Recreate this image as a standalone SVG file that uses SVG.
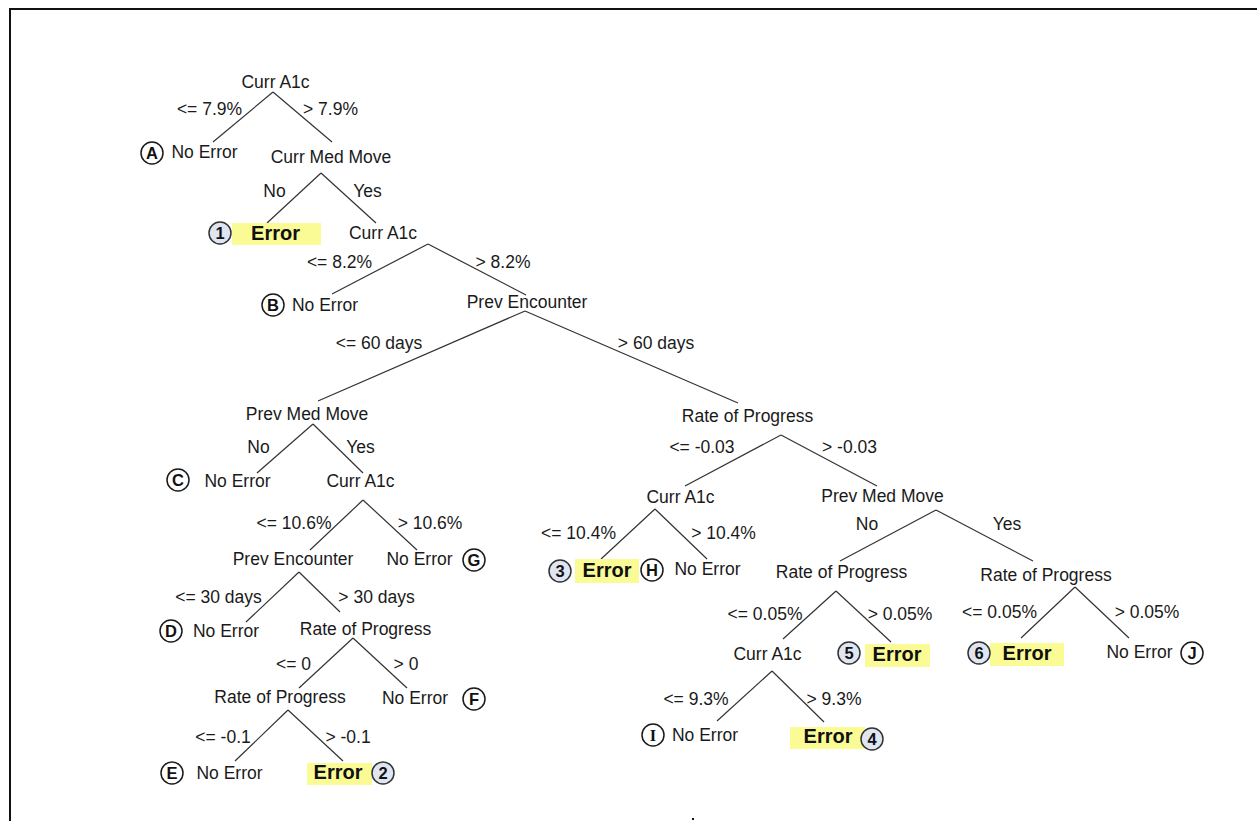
<svg xmlns="http://www.w3.org/2000/svg" width="1257" height="821" viewBox="0 0 1257 821">
<style>
.t{font-family:"Liberation Sans",Arial,sans-serif;font-size:17.5px;fill:#1a1a1a;text-anchor:middle}
.e{font-family:"Liberation Sans",Arial,sans-serif;font-size:20px;font-weight:bold;fill:#111;text-anchor:middle}
.hl{fill:#fbfb96}
.lc{fill:#fff;stroke:#1a1a1a;stroke-width:1.5}
.nc{fill:#dfe6f2;stroke:#333;stroke-width:1.5}
.ct{font-family:"Liberation Sans",Arial,sans-serif;font-size:16.5px;font-weight:bold;fill:#111;text-anchor:middle}
#connectors line{stroke:#333;stroke-width:1.2}
</style>
<rect width="1257" height="821" fill="#fff"/>
<path d="M1257 9H10V821" fill="none" stroke="#111" stroke-width="2"/>
<rect x="692" y="818" width="2" height="2" fill="#111"/>
<g id="connectors">
<line x1="273" y1="92" x2="213" y2="142"/>
<line x1="273" y1="92" x2="332" y2="142"/>
<line x1="321" y1="173" x2="267" y2="223"/>
<line x1="321" y1="173" x2="376" y2="223"/>
<line x1="428" y1="244" x2="332" y2="294"/>
<line x1="428" y1="244" x2="526" y2="295"/>
<line x1="525" y1="311" x2="318" y2="401"/>
<line x1="525" y1="311" x2="738" y2="403"/>
<line x1="313" y1="424" x2="257" y2="473"/>
<line x1="313" y1="424" x2="363" y2="473"/>
<line x1="363" y1="500" x2="310" y2="550"/>
<line x1="363" y1="500" x2="417" y2="550"/>
<line x1="299" y1="572" x2="246" y2="622"/>
<line x1="299" y1="572" x2="340" y2="612"/>
<line x1="353" y1="638" x2="299" y2="688"/>
<line x1="353" y1="638" x2="407" y2="688"/>
<line x1="288" y1="710" x2="235" y2="761"/>
<line x1="288" y1="710" x2="343" y2="761"/>
<line x1="781" y1="435" x2="685" y2="486"/>
<line x1="781" y1="435" x2="877" y2="486"/>
<line x1="655" y1="509" x2="601" y2="559"/>
<line x1="655" y1="509" x2="707" y2="559"/>
<line x1="936" y1="510" x2="840" y2="561"/>
<line x1="936" y1="510" x2="1033" y2="561"/>
<line x1="836" y1="591" x2="783" y2="639"/>
<line x1="836" y1="591" x2="891" y2="642"/>
<line x1="1075" y1="587" x2="1021" y2="638"/>
<line x1="1075" y1="587" x2="1129" y2="638"/>
<line x1="772" y1="671" x2="717" y2="721"/>
<line x1="772" y1="671" x2="824" y2="722"/>
</g>
<g id="edge-labels">
<text class="t" x="209.5" y="115">&lt;= 7.9%</text>
<text class="t" x="330.5" y="115">&gt; 7.9%</text>
<text class="t" x="274.5" y="197">No</text>
<text class="t" x="367.5" y="197">Yes</text>
<text class="t" x="339.5" y="268">&lt;= 8.2%</text>
<text class="t" x="503" y="268">&gt; 8.2%</text>
<text class="t" x="379" y="349">&lt;= 60 days</text>
<text class="t" x="656" y="349">&gt; 60 days</text>
<text class="t" x="258.5" y="453">No</text>
<text class="t" x="360.5" y="453">Yes</text>
<text class="t" x="294" y="529">&lt;= 10.6%</text>
<text class="t" x="430" y="529">&gt; 10.6%</text>
<text class="t" x="218.5" y="603">&lt;= 30 days</text>
<text class="t" x="376.5" y="603">&gt; 30 days</text>
<text class="t" x="293.5" y="670">&lt;= 0</text>
<text class="t" x="406" y="670">&gt; 0</text>
<text class="t" x="223" y="743">&lt;= -0.1</text>
<text class="t" x="348" y="743">&gt; -0.1</text>
<text class="t" x="702" y="453">&lt;= -0.03</text>
<text class="t" x="849.5" y="453">&gt; -0.03</text>
<text class="t" x="578.5" y="539">&lt;= 10.4%</text>
<text class="t" x="723.5" y="539">&gt; 10.4%</text>
<text class="t" x="867" y="530">No</text>
<text class="t" x="1007" y="530">Yes</text>
<text class="t" x="765" y="620">&lt;= 0.05%</text>
<text class="t" x="900" y="620">&gt; 0.05%</text>
<text class="t" x="696" y="705">&lt;= 9.3%</text>
<text class="t" x="834" y="705">&gt; 9.3%</text>
<text class="t" x="999.5" y="618">&lt;= 0.05%</text>
<text class="t" x="1147" y="618">&gt; 0.05%</text>
</g>
<g id="n-root"><text class="t" x="275.5" y="88">Curr A1c</text></g>
<g id="n-A"><circle class="lc" cx="152" cy="153" r="11"/><text class="ct" x="152" y="159">A</text><text class="t" x="204.5" y="158">No Error</text></g>
<g id="n-currmed"><text class="t" x="331" y="163">Curr Med Move</text></g>
<g id="n-1"><rect class="hl" x="232" y="223" width="89" height="22"/><circle class="nc" cx="220" cy="233" r="11"/><text class="ct" x="220" y="239">1</text><text class="e" x="275.5" y="240">Error</text></g>
<g id="n-curra1c2"><text class="t" x="383" y="239">Curr A1c</text></g>
<g id="n-B"><circle class="lc" cx="273" cy="305" r="11"/><text class="ct" x="273" y="311">B</text><text class="t" x="325" y="311">No Error</text></g>
<g id="n-prevenc"><text class="t" x="527" y="308">Prev Encounter</text></g>
<g id="n-prevmed"><text class="t" x="307" y="420">Prev Med Move</text></g>
<g id="n-C"><circle class="lc" cx="178" cy="480" r="11"/><text class="ct" x="178" y="486">C</text><text class="t" x="237.5" y="487">No Error</text></g>
<g id="n-curra1c3"><text class="t" x="360.5" y="487">Curr A1c</text></g>
<g id="n-prevenc2"><text class="t" x="293" y="565">Prev Encounter</text></g>
<g id="n-G"><text class="t" x="419.5" y="565">No Error</text><circle class="lc" cx="474" cy="560" r="11"/><text class="ct" x="474" y="566">G</text></g>
<g id="n-D"><circle class="lc" cx="171" cy="631" r="11"/><text class="ct" x="171" y="637">D</text><text class="t" x="226" y="637">No Error</text></g>
<g id="n-rop1"><text class="t" x="365.5" y="635">Rate of Progress</text></g>
<g id="n-rop2"><text class="t" x="280" y="703">Rate of Progress</text></g>
<g id="n-F"><text class="t" x="415" y="704">No Error</text><circle class="lc" cx="474" cy="699" r="11"/><text class="ct" x="474" y="705">F</text></g>
<g id="n-E"><circle class="lc" cx="172" cy="773" r="11"/><text class="ct" x="172" y="779">E</text><text class="t" x="229.5" y="779">No Error</text></g>
<g id="n-2"><rect class="hl" x="307" y="763" width="65" height="22"/><text class="e" x="338" y="779">Error</text><circle class="nc" cx="383" cy="773" r="11"/><text class="ct" x="383" y="779">2</text></g>
<g id="n-rop3"><text class="t" x="747.5" y="422">Rate of Progress</text></g>
<g id="n-curra1c4"><text class="t" x="680.5" y="503">Curr A1c</text></g>
<g id="n-prevmed2"><text class="t" x="882.5" y="502">Prev Med Move</text></g>
<g id="n-3"><rect class="hl" x="575" y="559" width="64" height="24"/><circle class="nc" cx="560" cy="571" r="11"/><text class="ct" x="560" y="577">3</text><text class="e" x="607" y="577">Error</text></g>
<g id="n-H"><circle class="lc" cx="652" cy="570" r="11"/><text class="ct" x="652" y="576">H</text><text class="t" x="707.5" y="575">No Error</text></g>
<g id="n-rop4"><text class="t" x="841.5" y="578">Rate of Progress</text></g>
<g id="n-rop5"><text class="t" x="1046" y="581">Rate of Progress</text></g>
<g id="n-curra1c5"><text class="t" x="767.5" y="660">Curr A1c</text></g>
<g id="n-5"><rect class="hl" x="865" y="644" width="65" height="23"/><circle class="nc" cx="849" cy="653" r="11"/><text class="ct" x="849" y="659">5</text><text class="e" x="897" y="661">Error</text></g>
<g id="n-I"><circle class="lc" cx="653" cy="735" r="11"/><text class="ct" x="653" y="741" style="font-family:'Liberation Serif',serif">I</text><text class="t" x="705" y="741">No Error</text></g>
<g id="n-4"><rect class="hl" x="790" y="727" width="75" height="22"/><text class="e" x="828" y="743">Error</text><circle class="nc" cx="872" cy="739" r="11"/><text class="ct" x="872" y="745">4</text></g>
<g id="n-6"><rect class="hl" x="990" y="643" width="74" height="23"/><circle class="nc" cx="979" cy="653" r="11"/><text class="ct" x="979" y="659">6</text><text class="e" x="1027" y="660">Error</text></g>
<g id="n-J"><text class="t" x="1139.5" y="658">No Error</text><circle class="lc" cx="1192" cy="653" r="11"/><text class="ct" x="1192" y="659">J</text></g>
</svg>
